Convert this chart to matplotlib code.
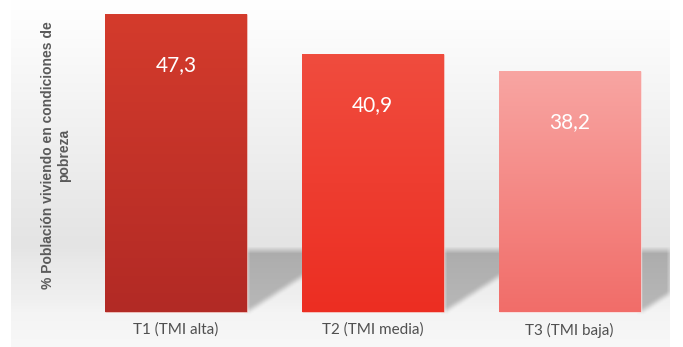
import numpy as np
import matplotlib
matplotlib.use("Agg")
import matplotlib.pyplot as plt
from matplotlib.colors import to_rgb

# =========================
# DATOS
# =========================
categorias = ["T1 (TMI alta)", "T2 (TMI media)", "T3 (TMI baja)"]
valores = [47.3, 40.9, 38.2]
etiquetas = ["47,3", "40,9", "38,2"]

color_arriba = ["#d43b2c", "#f04c3e", "#f8a5a2"]
color_abajo = ["#b22a25", "#ec2e22", "#f16d69"]

titulo_y = "% Población viviendo en condiciones de\npobreza"

# =========================
# FIGURA
# =========================
W_PX, H_PX = 683, 347
fig = plt.figure(figsize=(W_PX / 100, H_PX / 100), dpi=100)
fig.patch.set_facecolor("white")

# panel gris de fondo (de x=11 a x=670 px)
ax = fig.add_axes([11 / W_PX, 0, (670 - 11) / W_PX, 1])
ax.axis("off")

paso = 196.75          # px entre barras
ppu = 298 / 47.3       # px por unidad
x0 = (11 - 176) / paso
x1 = (670 - 176) / paso
y0 = -(H_PX - 312) / ppu
y1 = 312 / ppu
ax.set_xlim(x0, x1)
ax.set_ylim(y0, y1)

ancho = 142 / paso
pos = np.arange(len(valores))

# =========================
# FONDO CON SOMBRAS
# =========================
h, w = H_PX, 670 - 11
filas = np.arange(h)
gx = x0 + (np.arange(w) + 0.5) / paso
gy = y1 - (filas + 0.5) / ppu
GX, GY = np.meshgrid(gx, gy)

base = np.interp(filas, [0, 30, 100, 180, 245, 262, 300, 312, 347],
                 [255, 252, 244, 235, 228, 233, 240, 244, 248])
fondo = np.repeat(base[:, None], w, axis=1).astype(float)

# sombra de cada barra proyectada hacia la derecha
sombra = np.zeros_like(fondo)
techo = (312 - 250) / ppu
pendiente = (36 / ppu) / (56 / paso)
for i in pos:
    xr = i + ancho / 2
    fin = i + 1 if i < len(pos) - 1 else x1
    m = (GX > xr) & (GX < fin) & (GY < techo) & (GY > pendiente * (GX - xr))
    sombra[m] = 1.0

# desenfoque sencillo (caja) en ambos ejes
k = np.ones(7) / 7
sombra = np.apply_along_axis(lambda r: np.convolve(r, k, mode="same"), 0, sombra)
sombra = np.apply_along_axis(lambda r: np.convolve(r, k, mode="same"), 1, sombra)
fondo = fondo - 58 * sombra

img = np.clip(fondo / 255, 0, 1)
img = np.dstack([img, img, img])
ax.imshow(img, extent=[x0, x1, y0, y1], aspect="auto", zorder=0,
          interpolation="bilinear")

# =========================
# BARRAS
# =========================
barras = ax.bar(pos, valores, width=ancho, color=color_arriba,
                edgecolor=(1, 1, 1, 0.35), linewidth=0.8, zorder=2)

for b, ca, cb in zip(barras, color_arriba, color_abajo):
    grad = np.linspace(0, 1, 100)[:, None, None]
    c = (1 - grad) * np.array(to_rgb(ca)) + grad * np.array(to_rgb(cb))
    bx, by = b.get_x(), b.get_y()
    im = ax.imshow(c, extent=[bx, bx + b.get_width(), by, by + b.get_height()],
                   aspect="auto", zorder=2.5, interpolation="bilinear")
    im.set_clip_path(b)

# =========================
# ETIQUETAS
# =========================
for p, v, t in zip(pos, valores, etiquetas):
    ax.annotate(t, (p, v), xytext=(0, -36.5), textcoords="offset points",
                ha="center", va="center", color="white", fontsize=15,
                family="Lato", zorder=4)

for p, c in zip(pos, categorias):
    ax.text(p, -(330 - 312) / ppu, c, ha="center", va="center",
            fontsize=11, color="#505050", family="Lato", zorder=4)

fig.text(56 / W_PX, 1 - 155 / H_PX, titulo_y, rotation=90, ha="center",
         va="center", fontsize=10, fontweight="bold", color="#5a5a5a",
         family="Liberation Sans", linespacing=1.25, multialignment="center")

fig.savefig("out.png", dpi=100)
